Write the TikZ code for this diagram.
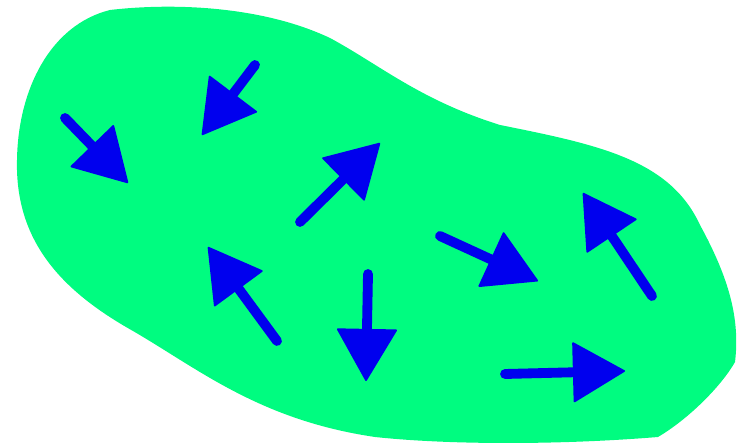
\documentclass[tikz,border=0pt]{standalone}
\usetikzlibrary{arrows.meta}
\definecolor{BlobFill}{RGB}{0,252,128}
\definecolor{VectorInk}{RGB}{0,0,238}
\tikzset{
    blob/diagram/.style={x=0.02cm, y=-0.02cm},
    blob/region/.style={fill=BlobFill, draw=none},
    blob/vector/.style={
        draw=VectorInk, line width=5.6pt, line cap=round,
        -{Triangle[length=10.6mm, width=12.2mm, line width=1pt, round]}
    }
}

\begin{document}
\begin{tikzpicture}[blob/diagram]
    \useasboundingbox (0,0) rectangle (750,448);
    \def\BlobBoundary{
        (110,10)
        .. controls (170,3) and (260,5) .. (330,38)
        .. controls (380,65) and (420,100) .. (500,125)
        .. controls (600,145) and (670,160) .. (700,225)
        .. controls (730,280) and (740,320) .. (735,362)
        .. controls (722,385) and (690,418) .. (658,437)
        .. controls (560,445) and (450,445) .. (375,437)
        .. controls (260,420) and (200,370) .. (133,331)
        .. controls (60,290) and (15,240) .. (17,160)
        .. controls (18,90) and (50,25) .. (110,10)
        -- cycle
    }
    \fill[blob/region] \BlobBoundary;
    % field vectors: tail / tip
    \foreach \tx/\ty/\hx/\hy in {
        65/118/128/183, 255/65/202/135, 300/222/380/143,
        440/236/538/281, 652/296/583/193, 277/341/208/247,
        368/274/366/381, 505/374/625/371}
        \draw[blob/vector] (\tx,\ty) -- (\hx,\hy);
\end{tikzpicture}
\end{document}
